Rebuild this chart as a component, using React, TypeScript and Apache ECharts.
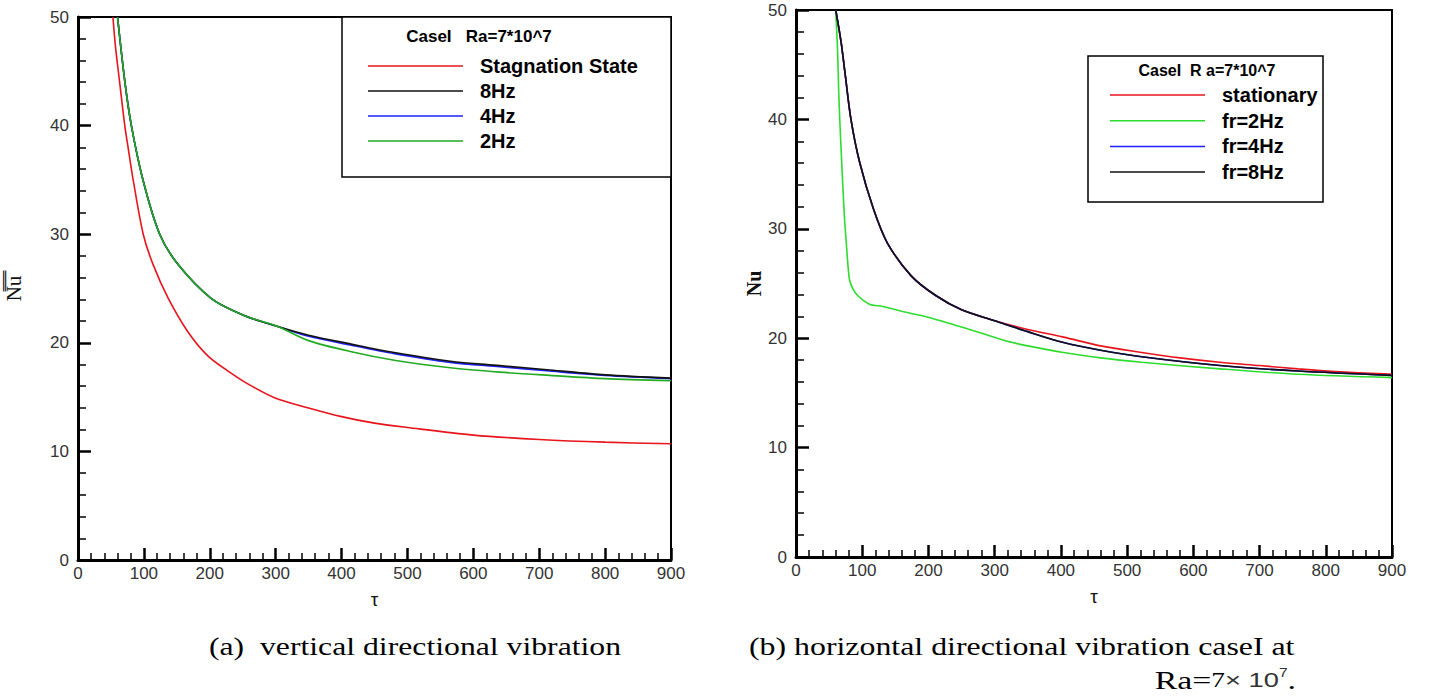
import React, { useEffect, useRef } from "react";
import * as echarts from "echarts";

// ---------- (a) vertical directional vibration ----------
const tauRedA = [53, 57, 63, 71, 76, 84, 99, 114, 137, 167, 197, 230, 261, 300, 350, 400, 450, 500, 600, 700, 800, 900];
const redA = [50, 47.2, 44.1, 40, 38, 34.9, 30, 27.2, 24.1, 21.0, 18.8, 17.3, 16.1, 14.9, 14.0, 13.2, 12.6, 12.2, 11.5, 11.1, 10.85, 10.7];

const tauGreenA = [60, 71, 81, 99, 124, 152, 202, 253, 303, 350, 413, 480, 565, 640, 716, 800, 900];
const greenA = [50, 44.1, 40, 34.9, 30, 27.2, 24.1, 22.5, 21.5, 20.2, 19.2, 18.4, 17.7, 17.3, 17.0, 16.7, 16.5];

const tauBlueA = [60, 71, 81, 99, 124, 152, 202, 253, 303, 350, 413, 480, 565, 640, 716, 800, 900];
const blueA = [50, 44.1, 40, 34.9, 30, 27.2, 24.1, 22.5, 21.5, 20.6, 19.8, 19.0, 18.2, 17.8, 17.4, 17.0, 16.7];

const tauBlackA = [60, 71, 81, 99, 124, 152, 202, 253, 303, 350, 413, 480, 565, 640, 716, 800, 900];
const blackA = [50, 44.1, 40, 34.9, 30, 27.2, 24.1, 22.5, 21.5, 20.7, 19.9, 19.1, 18.3, 17.9, 17.5, 17.05, 16.75];

// ---------- (b) horizontal directional vibration ----------
const tauBlackB = [60, 68, 74.5, 83, 96, 117, 138, 174, 211, 250, 300, 350, 404, 460, 522, 640, 758, 900];
const blackB = [50, 47.1, 44.0, 40, 36.1, 31.8, 28.7, 25.7, 23.9, 22.6, 21.6, 20.6, 19.6, 18.9, 18.3, 17.5, 17.0, 16.6];

const tauBlueB = [60, 68, 74.5, 83, 96, 117, 138, 174, 211, 250, 300, 350, 404, 460, 522, 640, 758, 900];
const blueB = [50, 47.1, 44.0, 40, 36.1, 31.8, 28.7, 25.7, 23.9, 22.6, 21.6, 20.6, 19.6, 18.9, 18.3, 17.5, 17.0, 16.6];

const tauRedB = [60, 68, 74.5, 83, 96, 117, 138, 174, 211, 250, 300, 350, 404, 460, 522, 580, 640, 700, 758, 830, 900];
const redB = [50, 47.1, 44.0, 40, 36.1, 31.8, 28.7, 25.7, 23.9, 22.6, 21.6, 20.8, 20.1, 19.3, 18.7, 18.2, 17.8, 17.5, 17.2, 16.9, 16.7];

const tauGreenB = [60, 63, 64.5, 66.5, 69, 73, 75.5, 80.6, 86, 93, 111, 131, 171, 201, 262, 304, 327, 350, 404, 460, 522, 640, 758, 900];
const greenB = [50, 45.9, 42.5, 39.4, 36.1, 31.2, 29.1, 25.4, 24.5, 23.9, 23.1, 22.9, 22.3, 21.9, 20.8, 20.0, 19.6, 19.3, 18.7, 18.2, 17.8, 17.2, 16.7, 16.4];

// ---------- axes ----------
const xTicks = [0, 100, 200, 300, 400, 500, 600, 700, 800, 900];
const yTicks = [0, 10, 20, 30, 40, 50];

const namesA = ["Stagnation State", "8Hz", "4Hz", "2Hz"];
const namesB = ["stationary", "fr=2Hz", "fr=4Hz", "fr=8Hz"];
const legendTitleA = "CaseI   Ra=7*10^7";
const legendTitleB = "CaseI  R a=7*10^7";
const captionA = "(a)  vertical directional vibration";
const captionB1 = "(b) horizontal directional vibration caseI at";

const pairs = (xs: number[], ys: number[]) => xs.map((x, i) => [x, ys[i]]);

const RED = "#e8141c";
const BLACK = "#111111";
const BLUE = "#1f1fff";
const GREEN_A = "#22aa22";
const GREEN_B = "#2edc2e";

const SANS = "'Liberation Sans', Arial, sans-serif";
const SERIF = "'Liberation Serif', 'Times New Roman', serif";

function xAxis(gridIndex: number) {
  return {
    type: "value",
    gridIndex,
    min: xTicks[0],
    max: xTicks[xTicks.length - 1],
    interval: 100,
    name: "τ",
    nameLocation: "middle",
    nameGap: 30,
    nameTextStyle: { fontFamily: SANS, fontSize: 19, color: "#111" },
    axisLine: { show: true, onZero: false, lineStyle: { color: "#000", width: 3 } },
    axisTick: { show: true, inside: true, length: 12, lineStyle: { color: "#000", width: 2.5 } },
    minorTick: { show: true, splitNumber: 5, length: 7, lineStyle: { color: "#000", width: 1.5 } },
    axisLabel: { fontFamily: SANS, fontSize: 17, color: "#333", margin: 5 },
    splitLine: { show: false },
  };
}

function yAxis(gridIndex: number, name: string, nameStyle: any, nameGap: number) {
  return {
    type: "value",
    gridIndex,
    min: yTicks[0],
    max: yTicks[yTicks.length - 1],
    interval: 10,
    name,
    nameLocation: "middle",
    nameGap,
    nameTextStyle: nameStyle,
    axisLine: { show: true, onZero: false, lineStyle: { color: "#000", width: 3 } },
    axisTick: { show: true, inside: true, length: 13, lineStyle: { color: "#000", width: 2.5 } },
    minorTick: { show: true, splitNumber: 5, length: 8, lineStyle: { color: "#000", width: 1.5 } },
    axisLabel: { fontFamily: SANS, fontSize: 17, color: "#333", margin: 9 },
    splitLine: { show: false },
  };
}

function line(name: string, data: number[][], color: string, idx: number, z: number) {
  return {
    type: "line",
    name,
    xAxisIndex: idx,
    yAxisIndex: idx,
    data,
    symbol: "none",
    showSymbol: false,
    smooth: 0.3,
    clip: true,
    z,
    lineStyle: { color, width: 1.6 },
    itemStyle: { color },
  };
}

export default function App() {
  const ref = useRef<HTMLDivElement>(null);

  useEffect(() => {
    if (!ref.current) return;
    const chart = echarts.init(ref.current, undefined, { renderer: "svg" });

    const legendCommon = {
      orient: "vertical",
      icon: "rect",
      itemWidth: 95,
      itemHeight: 1.5,
      padding: 0,
      z: 20,
      selectedMode: false,
      textStyle: {
        fontFamily: SANS,
        fontSize: 20,
        fontWeight: "bold",
        color: "#000",
        padding: [0, 0, 0, 12],
      },
    };

    const option: any = {
      animation: false,
      backgroundColor: "#fff",
      grid: [
        { left: 78, top: 17, width: 593, height: 543, show: true, borderColor: "#000", borderWidth: 2, backgroundColor: "transparent" },
        { left: 796, top: 10, width: 596, height: 547, show: true, borderColor: "#000", borderWidth: 2, backgroundColor: "transparent" },
      ],
      xAxis: [xAxis(0), xAxis(1)],
      yAxis: [
        yAxis(0, "N̿u̿", { fontFamily: SERIF, fontSize: 21, color: "#111" }, 54),
        yAxis(1, "Nu", { fontFamily: SERIF, fontSize: 20, fontWeight: "bold", color: "#111" }, 27),
      ],
      legend: [
        { ...legendCommon, data: namesA, left: 368, top: 56, itemGap: 5 },
        { ...legendCommon, data: namesB, left: 1110, top: 85, itemGap: 5.7 },
      ],
      graphic: [
        { type: "rect", z: 10, shape: { x: 342, y: 17, width: 329, height: 160 }, style: { fill: "#fff", stroke: "#000", lineWidth: 1.5 } },
        { type: "text", z: 11, x: 479, y: 36, style: { text: legendTitleA, fontFamily: SANS, fontSize: 17, fontWeight: "bold", fill: "#000", align: "center", verticalAlign: "middle" } },
        { type: "rect", z: 10, shape: { x: 1088, y: 56, width: 235, height: 146 }, style: { fill: "#fff", stroke: "#000", lineWidth: 1.5 } },
        { type: "text", z: 11, x: 1207, y: 70, style: { text: legendTitleB, fontFamily: SANS, fontSize: 16, fontWeight: "bold", fill: "#000", align: "center", verticalAlign: "middle" } },
        { type: "text", x: 415, y: 646, scaleX: 1.22, style: { text: captionA, fontFamily: SERIF, fontSize: 26, fill: "#000", align: "center", verticalAlign: "middle" } },
        { type: "text", x: 749, y: 646, scaleX: 1.225, style: { text: captionB1, fontFamily: SERIF, fontSize: 26, fill: "#000", align: "left", verticalAlign: "middle" } },
        {
          type: "text",
          x: 1296,
          y: 680,
          scaleX: 1.3,
          style: {
            text: "{s|Ra=}{n|7}{m|× 10}{sup|7}{s|.}",
            align: "right",
            verticalAlign: "middle",
            rich: {
              s: { fontFamily: SERIF, fontSize: 26, fill: "#000" },
              n: { fontFamily: SERIF, fontSize: 21, fill: "#000" },
              m: { fontFamily: SANS, fontSize: 21, fill: "#333" },
              sup: { fontFamily: SANS, fontSize: 12, fill: "#333", padding: [0, 0, 14, 0] },
            },
          },
        },
      ],
      series: [
        line("Stagnation State", pairs(tauRedA, redA), RED, 0, 2),
        line("4Hz", pairs(tauBlueA, blueA), BLUE, 0, 3),
        line("8Hz", pairs(tauBlackA, blackA), BLACK, 0, 4),
        line("2Hz", pairs(tauGreenA, greenA), GREEN_A, 0, 5),
        line("stationary", pairs(tauRedB, redB), RED, 1, 2),
        line("fr=2Hz", pairs(tauGreenB, greenB), GREEN_B, 1, 3),
        line("fr=4Hz", pairs(tauBlueB, blueB), BLUE, 1, 4),
        line("fr=8Hz", pairs(tauBlackB, blackB), BLACK, 1, 5),
      ],
    };

    chart.setOption(option);
    return () => chart.dispose();
  }, []);

  return <div ref={ref} style={{ position: "absolute", left: 0, top: 0, width: 1429, height: 700 }} />;
}
